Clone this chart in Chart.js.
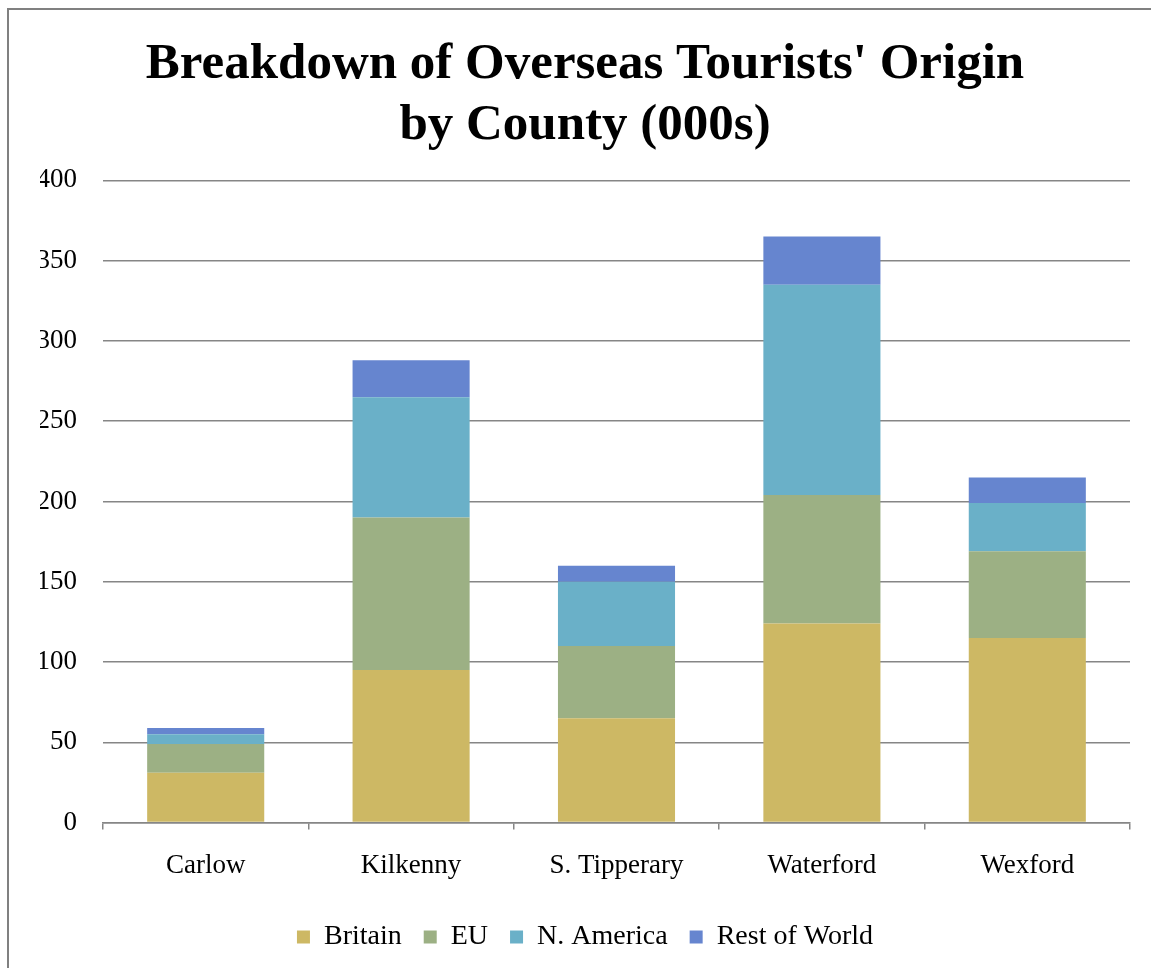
<!DOCTYPE html>
<html>
<head>
<meta charset="utf-8">
<title>Overseas Tourists by County</title>
<script src="https://cdn.jsdelivr.net/npm/chart.js@4/dist/chart.umd.min.js"></script>
<style>
    html, body { margin: 0; padding: 0; background: #fff; }
    #frame {
        position: absolute;
        left: 7px;
        top: 8px;
        width: 1144px;
        height: 960px;
        border-left: 2px solid #808080;
        border-top: 2px solid #808080;
    }
    #wrap {
        position: absolute;
        left: 0;
        top: 0;
        width: 1151px;
        height: 968px;
    }
</style>
</head>
<body>
<div id="frame"></div>
<div id="wrap"><canvas id="tourists"></canvas></div>

<script>
/* =====================================
   Data (thousands of visitors)
===================================== */
const counties = ["Carlow", "Kilkenny", "S. Tipperary", "Waterford", "Wexford"];

const britain   = [31, 95, 65, 124, 115];
const eu        = [18, 95, 45, 80, 54];
const nAmerica  = [6, 75, 40, 131, 30];
const restWorld = [4, 23, 10, 30, 16];

const yTicks = [0, 50, 100, 150, 200, 250, 300, 350, 400];

const serif = "'Liberation Serif', 'DejaVu Serif', serif";
const gridGrey = "#868686";


/* =====================================
   Build datasets
===================================== */
function makeSeries(label, values, color) {
    return {
        label: label,
        data: values,
        backgroundColor: color,
        borderWidth: 0,
        barPercentage: 0.57,
        categoryPercentage: 1.0
    };
}

const datasets = [
    makeSeries("Britain", britain, "#CDB864"),
    makeSeries("EU", eu, "#9CB084"),
    makeSeries("N. America", nAmerica, "#6AB0C8"),
    makeSeries("Rest of World", restWorld, "#6685CF")
];


/* =====================================
   Chart
===================================== */
Chart.defaults.font.family = serif;
Chart.defaults.color = "#000";

new Chart(document.getElementById("tourists"), {
    type: "bar",
    data: {
        labels: counties,
        datasets: datasets
    },
    options: {
        responsive: true,
        maintainAspectRatio: false,
        animation: false,
        layout: {
            padding: { left: 40, right: 21, top: 34, bottom: 7 }
        },
        plugins: {
            title: {
                display: true,
                text: ["Breakdown of Overseas Tourists' Origin", "by County (000s)"],
                font: { size: 51, weight: "bold", family: serif },
                lineHeight: 1.08,
                color: "#000",
                padding: { top: 0, bottom: 24 }
            },
            legend: {
                position: "bottom",
                labels: {
                    boxWidth: 13,
                    boxHeight: 13,
                    padding: 22,
                    font: { size: 28, family: serif },
                    color: "#000"
                }
            },
            tooltip: { enabled: false }
        },
        scales: {
            x: {
                stacked: true,
                offset: true,
                afterFit: function (scale) {
                    scale.height = scale.height - 1;
                },
                grid: {
                    offset: true,
                    drawOnChartArea: false,
                    drawTicks: true,
                    tickLength: 7,
                    color: gridGrey,
                    lineWidth: 1.5
                },
                border: { display: true, color: gridGrey, width: 1.5 },
                ticks: {
                    font: { size: 27, family: serif },
                    color: "#000",
                    padding: 20
                }
            },
            y: {
                stacked: true,
                min: 0,
                max: 400,
                afterBuildTicks: function (scale) {
                    scale.ticks = yTicks.map(v => ({ value: v }));
                },
                afterFit: function (scale) {
                    scale.width = 63;
                },
                grid: {
                    drawTicks: false,
                    color: gridGrey,
                    lineWidth: 1.5
                },
                border: { display: false },
                ticks: {
                    font: { size: 27, family: serif },
                    color: "#000",
                    padding: 26
                }
            }
        }
    }
});
</script>
</body>
</html>
